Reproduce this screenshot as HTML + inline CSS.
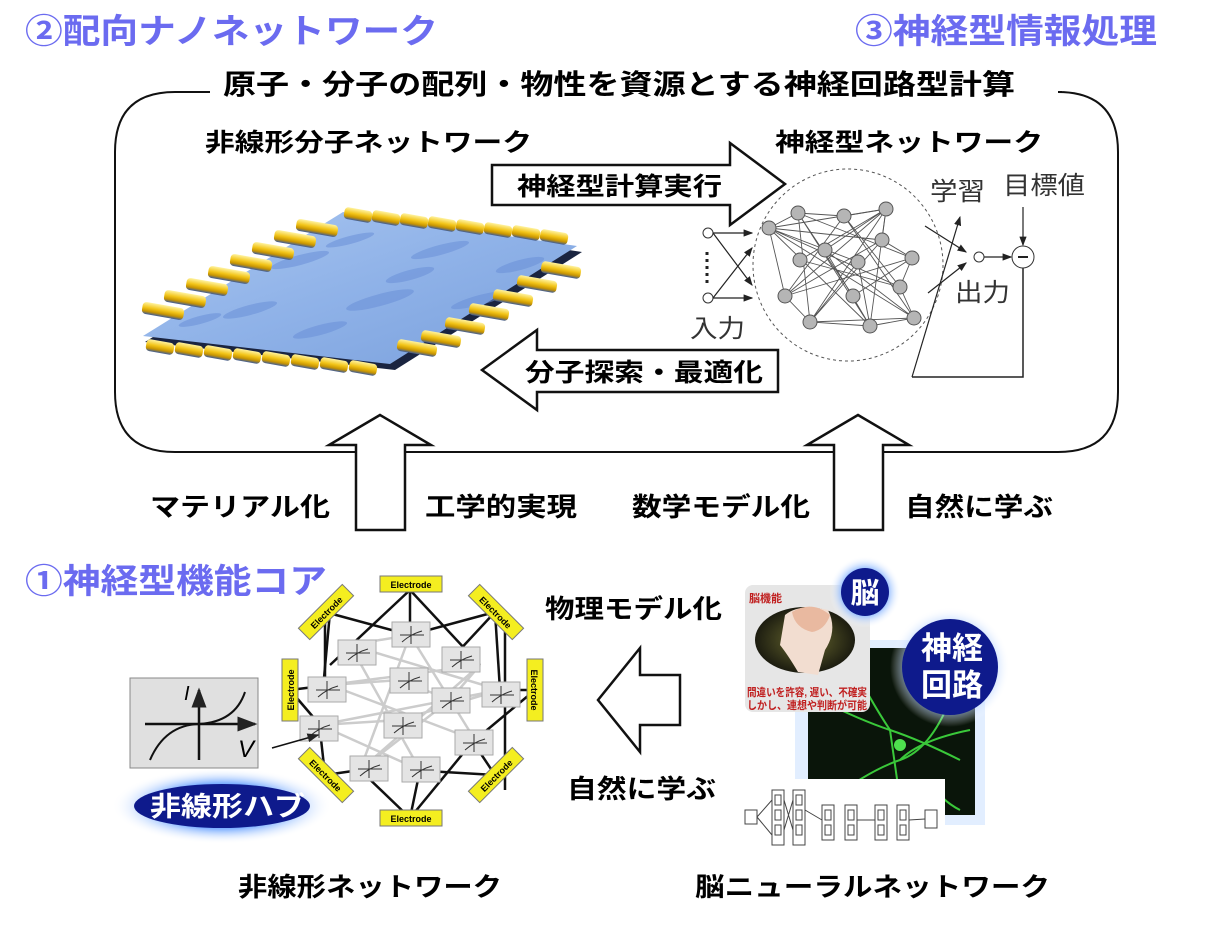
<!DOCTYPE html>
<html><head><meta charset="utf-8"><style>
body{margin:0;background:#fff;width:1210px;height:929px;overflow:hidden}
svg{display:block}
text{font-family:"Liberation Sans","Noto Sans CJK JP",sans-serif}
.b{font-weight:bold}
</style></head><body>
<svg width="1210" height="929" viewBox="0 0 1210 929" xmlns="http://www.w3.org/2000/svg">
<defs>
<linearGradient id="sheet" x1="0" y1="0" x2="1" y2="1">
<stop offset="0" stop-color="#a9c6f0"/><stop offset=".5" stop-color="#8fb2e8"/><stop offset="1" stop-color="#7aa0dc"/></linearGradient>
<linearGradient id="gold" x1="0" y1="0" x2="0" y2="1"><stop offset="0" stop-color="#fff3a0"/><stop offset=".45" stop-color="#f2c418"/><stop offset=".75" stop-color="#c89400"/><stop offset="1" stop-color="#3b5a9a"/></linearGradient>
<radialGradient id="glow"><stop offset=".6" stop-color="#7fb0ff"/><stop offset="1" stop-color="#ffffff" stop-opacity="0"/></radialGradient>
<radialGradient id="head"><stop offset="0" stop-color="#6a6a30"/><stop offset="1" stop-color="#1c1c10"/></radialGradient>
<marker id="ah" markerWidth="8" markerHeight="8" refX="7" refY="4" orient="auto"><path d="M0,1 L8,4 L0,7z" fill="#222"/></marker>
</defs>

<!-- headings -->
<text x="25" y="43" class="b" font-size="34" fill="#6b6bf0" textLength="413" lengthAdjust="spacingAndGlyphs">②配向ナノネットワーク</text>
<text x="855" y="43" class="b" font-size="34" fill="#6b6bf0" textLength="302" lengthAdjust="spacingAndGlyphs">③神経型情報処理</text>
<text x="25" y="593" class="b" font-size="34" fill="#6b6bf0" textLength="302" lengthAdjust="spacingAndGlyphs">①神経型機能コア</text>

<!-- big rounded box -->
<path d="M210,92 L175,92 Q115,92 115,152 L115,392 Q115,452 175,452 L1058,452 Q1118,452 1118,392 L1118,152 Q1118,92 1058,92 L1062,92" fill="none" stroke="#111" stroke-width="2"/>
<text x="223" y="94" class="b" font-size="28" textLength="792" lengthAdjust="spacingAndGlyphs">原子・分子の配列・物性を資源とする神経回路型計算</text>
<text x="205" y="151" class="b" font-size="25" textLength="327" lengthAdjust="spacingAndGlyphs">非線形分子ネットワーク</text>
<text x="775" y="151" class="b" font-size="25" textLength="268" lengthAdjust="spacingAndGlyphs">神経型ネットワーク</text>

<!-- right arrow -->
<path d="M492,165 L730,165 L730,143 L785,184 L730,225 L730,205 L492,205z" fill="#fff" stroke="#111" stroke-width="2.5"/>
<text x="517" y="195" class="b" font-size="25" textLength="205" lengthAdjust="spacingAndGlyphs">神経型計算実行</text>
<!-- left arrow -->
<path d="M778,350 L537,350 L537,330 L482,370 L537,410 L537,392 L778,392z" fill="#fff" stroke="#111" stroke-width="2.5"/>
<text x="525" y="381" class="b" font-size="25" textLength="238" lengthAdjust="spacingAndGlyphs">分子探索・最適化</text>

<!-- molecular chip -->
<g>
<polygon points="145,342 345,216 582,252 395,370" fill="#1a2440"/>
<polygon points="143,336 343,212 577,246 390,364" fill="url(#sheet)"/>
<g fill="#6a90d8" opacity=".55">
<ellipse cx="300" cy="260" rx="30" ry="5" transform="rotate(-15 300 260)"/>
<ellipse cx="380" cy="300" rx="35" ry="6" transform="rotate(-15 380 300)"/>
<ellipse cx="440" cy="250" rx="30" ry="5" transform="rotate(-15 440 250)"/>
<ellipse cx="250" cy="310" rx="28" ry="5" transform="rotate(-15 250 310)"/>
<ellipse cx="480" cy="300" rx="30" ry="5" transform="rotate(-15 480 300)"/>
<ellipse cx="350" cy="240" rx="25" ry="4" transform="rotate(-15 350 240)"/>
<ellipse cx="320" cy="330" rx="28" ry="5" transform="rotate(-15 320 330)"/>
<ellipse cx="520" cy="265" rx="25" ry="5" transform="rotate(-15 520 265)"/>
<ellipse cx="410" cy="275" rx="25" ry="5" transform="rotate(-15 410 275)"/>
<ellipse cx="200" cy="320" rx="22" ry="4" transform="rotate(-15 200 320)"/>
</g>
<g fill="url(#gold)">
<rect x="142" y="305" width="42" height="12" rx="4" transform="rotate(10 163 311)"/>
<rect x="164" y="293" width="42" height="12" rx="4" transform="rotate(10 185 299)"/>
<rect x="186" y="281" width="42" height="12" rx="4" transform="rotate(10 207 287)"/>
<rect x="208" y="269" width="42" height="12" rx="4" transform="rotate(10 229 275)"/>
<rect x="230" y="257" width="42" height="12" rx="4" transform="rotate(10 251 263)"/>
<rect x="252" y="245" width="42" height="12" rx="4" transform="rotate(10 273 251)"/>
<rect x="274" y="233" width="42" height="12" rx="4" transform="rotate(10 295 239)"/>
<rect x="296" y="222" width="42" height="12" rx="4" transform="rotate(10 317 228)"/>
<rect x="344" y="209" width="28" height="12" rx="4" transform="rotate(10 358 215)"/>
<rect x="372" y="212" width="28" height="12" rx="4" transform="rotate(10 386 218)"/>
<rect x="400" y="215" width="28" height="12" rx="4" transform="rotate(10 414 221)"/>
<rect x="428" y="218" width="28" height="12" rx="4" transform="rotate(10 442 224)"/>
<rect x="456" y="221" width="28" height="12" rx="4" transform="rotate(10 470 227)"/>
<rect x="484" y="224" width="28" height="12" rx="4" transform="rotate(10 498 230)"/>
<rect x="512" y="227" width="28" height="12" rx="4" transform="rotate(10 526 233)"/>
<rect x="540" y="231" width="28" height="12" rx="4" transform="rotate(10 554 237)"/>
<rect x="541" y="264" width="40" height="12" rx="4" transform="rotate(10 561 270)"/>
<rect x="517" y="278" width="40" height="12" rx="4" transform="rotate(10 537 284)"/>
<rect x="493" y="292" width="40" height="12" rx="4" transform="rotate(10 513 298)"/>
<rect x="469" y="306" width="40" height="12" rx="4" transform="rotate(10 489 312)"/>
<rect x="445" y="320" width="40" height="12" rx="4" transform="rotate(10 465 326)"/>
<rect x="421" y="333" width="40" height="12" rx="4" transform="rotate(10 441 339)"/>
<rect x="397" y="342" width="40" height="12" rx="4" transform="rotate(10 417 348)"/>
<rect x="146" y="341" width="28" height="12" rx="4" transform="rotate(10 160 347)"/>
<rect x="175" y="344" width="28" height="12" rx="4" transform="rotate(10 189 350)"/>
<rect x="204" y="347" width="28" height="12" rx="4" transform="rotate(10 218 353)"/>
<rect x="233" y="350" width="28" height="12" rx="4" transform="rotate(10 247 356)"/>
<rect x="262" y="353" width="28" height="12" rx="4" transform="rotate(10 276 359)"/>
<rect x="291" y="356" width="28" height="12" rx="4" transform="rotate(10 305 362)"/>
<rect x="320" y="359" width="28" height="12" rx="4" transform="rotate(10 334 365)"/>
<rect x="349" y="362" width="28" height="12" rx="4" transform="rotate(10 363 368)"/>
</g>
</g>

<!-- neural network -->
<g>
<ellipse cx="848" cy="265" rx="95" ry="96" fill="none" stroke="#555" stroke-dasharray="3,3"/>
<g stroke="#555" stroke-width="0.9" fill="none">
<path d="M769,228 L798,213 L844,216 L886,209 L882,240 L912,258 L900,287 L914,318 L870,326 L810,322 L785,296 L769,228"/>
<path d="M769,228 L886,209 M769,228 L914,318 M798,213 L870,326 M798,213 L810,322 M844,216 L785,296 M844,216 L914,318 M886,209 L810,322 M886,209 L785,296 M882,240 L769,228 M882,240 L810,322 M912,258 L798,213 M912,258 L785,296 M900,287 L769,228 M900,287 L844,216 M870,326 L769,228 M870,326 L886,209 M825,250 L914,318 M825,250 L886,209 M858,262 L769,228 M858,262 L870,326 M800,260 L900,287 M800,260 L886,209 M853,296 L798,213 M853,296 L912,258 M810,322 L914,318 M785,296 L882,240 M825,250 L870,326 M858,262 L810,322"/>
</g>
<g fill="#b5b5b5" stroke="#555">
<circle cx="769" cy="228" r="7"/><circle cx="798" cy="213" r="7"/><circle cx="844" cy="216" r="7"/><circle cx="886" cy="209" r="7"/><circle cx="882" cy="240" r="7"/><circle cx="912" cy="258" r="7"/><circle cx="900" cy="287" r="7"/><circle cx="914" cy="318" r="7"/><circle cx="870" cy="326" r="7"/><circle cx="810" cy="322" r="7"/><circle cx="785" cy="296" r="7"/><circle cx="825" cy="250" r="7"/><circle cx="858" cy="262" r="7"/><circle cx="800" cy="260" r="7"/><circle cx="853" cy="296" r="7"/>
</g>
<circle cx="708" cy="233" r="5" fill="#fff" stroke="#333"/>
<circle cx="708" cy="298" r="5" fill="#fff" stroke="#333"/>
<path d="M707,252 L707,285" stroke="#222" stroke-width="3" stroke-dasharray="3,4"/>
<g stroke="#222" stroke-width="1.2" marker-end="url(#ah)">
<line x1="713" y1="233" x2="752" y2="233"/><line x1="713" y1="233" x2="752" y2="285"/>
<line x1="713" y1="298" x2="752" y2="248"/><line x1="713" y1="298" x2="752" y2="298"/>
<line x1="925" y1="226" x2="966" y2="252"/><line x1="928" y1="293" x2="966" y2="263"/>
<line x1="984" y1="257" x2="1011" y2="257"/><line x1="1023" y1="207" x2="1023" y2="245"/>
<line x1="912" y1="377" x2="960" y2="217"/>
</g>
<polyline points="912,377 1023,377 1023,267" fill="none" stroke="#222" stroke-width="1.5"/>
<circle cx="979" cy="257" r="5" fill="#fff" stroke="#333"/>
<circle cx="1023" cy="257" r="11" fill="#fff" stroke="#333"/>
<line x1="1018" y1="257" x2="1028" y2="257" stroke="#222" stroke-width="2"/>
<text x="930" y="200" font-size="25" fill="#333" textLength="55" lengthAdjust="spacingAndGlyphs">学習</text>
<text x="1003" y="194" font-size="25" fill="#333" textLength="82" lengthAdjust="spacingAndGlyphs">目標値</text>
<text x="955" y="301" font-size="25" fill="#333" textLength="55" lengthAdjust="spacingAndGlyphs">出力</text>
<text x="690" y="337" font-size="25" fill="#333" textLength="55" lengthAdjust="spacingAndGlyphs">入力</text>
</g>

<!-- up arrows -->
<path d="M356,530 L356,445 L329,445 L380,415 L431,445 L405,445 L405,530z" fill="#fff" stroke="#111" stroke-width="2.5"/>
<path d="M834,530 L834,445 L807,445 L858,415 L909,445 L883,445 L883,530z" fill="#fff" stroke="#111" stroke-width="2.5"/>
<text x="150" y="516" class="b" font-size="26" textLength="180" lengthAdjust="spacingAndGlyphs">マテリアル化</text>
<text x="425" y="516" class="b" font-size="26" textLength="152" lengthAdjust="spacingAndGlyphs">工学的実現</text>
<text x="632" y="516" class="b" font-size="26" textLength="178" lengthAdjust="spacingAndGlyphs">数学モデル化</text>
<text x="905" y="516" class="b" font-size="26" textLength="148" lengthAdjust="spacingAndGlyphs">自然に学ぶ</text>

<!-- bottom-left network -->
<g stroke="#111" stroke-width="2.5">
<line x1="410" y1="590" x2="330" y2="665"/><line x1="410" y1="590" x2="480" y2="665"/><line x1="410" y1="590" x2="410" y2="635"/>
<line x1="325" y1="612" x2="410" y2="635"/><line x1="325" y1="612" x2="325" y2="690"/><line x1="495" y1="612" x2="410" y2="635"/><line x1="495" y1="612" x2="500" y2="690"/><line x1="495" y1="612" x2="455" y2="655"/>
<line x1="290" y1="690" x2="330" y2="685"/><line x1="290" y1="690" x2="320" y2="725"/><line x1="535" y1="690" x2="500" y2="690"/><line x1="535" y1="690" x2="475" y2="740"/>
<line x1="505" y1="630" x2="505" y2="790"/><line x1="330" y1="612" x2="322" y2="700"/>
<line x1="325" y1="775" x2="320" y2="730"/><line x1="325" y1="775" x2="360" y2="770"/><line x1="495" y1="775" x2="410" y2="770"/><line x1="495" y1="775" x2="475" y2="745"/>
<line x1="410" y1="818" x2="360" y2="770"/><line x1="410" y1="818" x2="470" y2="745"/><line x1="410" y1="818" x2="420" y2="770"/>
</g>
<g stroke="#ccc" stroke-width="2.5">
<line x1="330" y1="685" x2="480" y2="665"/><line x1="330" y1="685" x2="475" y2="740"/><line x1="320" y1="725" x2="500" y2="690"/><line x1="350" y1="645" x2="420" y2="770"/><line x1="350" y1="645" x2="500" y2="690"/><line x1="410" y1="635" x2="360" y2="770"/><line x1="410" y1="635" x2="475" y2="740"/><line x1="400" y1="680" x2="450" y2="700"/><line x1="400" y1="720" x2="500" y2="690"/><line x1="320" y1="725" x2="420" y2="770"/><line x1="480" y1="665" x2="360" y2="770"/><line x1="450" y1="700" x2="360" y2="770"/><line x1="400" y1="680" x2="330" y2="685"/><line x1="400" y1="720" x2="320" y2="725"/><line x1="350" y1="645" x2="410" y2="635"/><line x1="450" y1="700" x2="480" y2="665"/>
</g>
<g id="ivs" fill="#e4e4e4" stroke="#aaa">
<rect x="392" y="622" width="38" height="25"/><rect x="338" y="640" width="38" height="25"/><rect x="442" y="647" width="38" height="25"/><rect x="390" y="668" width="38" height="25"/><rect x="308" y="677" width="38" height="25"/><rect x="432" y="688" width="38" height="25"/><rect x="482" y="682" width="38" height="25"/><rect x="300" y="716" width="38" height="25"/><rect x="384" y="713" width="38" height="25"/><rect x="455" y="730" width="38" height="25"/><rect x="350" y="756" width="38" height="25"/><rect x="402" y="757" width="38" height="25"/>
</g>
<g stroke="#333" stroke-width="1" fill="none">
<path d="M400,635 h24 M411,626 v18 M402,642 q9,-8 20,-11"/><path d="M346,653 h24 M357,644 v18 M348,660 q9,-8 20,-11"/><path d="M450,660 h24 M461,651 v18 M452,667 q9,-8 20,-11"/><path d="M398,681 h24 M409,672 v18 M400,688 q9,-8 20,-11"/><path d="M316,690 h24 M327,681 v18 M318,697 q9,-8 20,-11"/><path d="M440,701 h24 M451,692 v18 M442,708 q9,-8 20,-11"/><path d="M490,695 h24 M501,686 v18 M492,702 q9,-8 20,-11"/><path d="M308,729 h24 M319,720 v18 M310,736 q9,-8 20,-11"/><path d="M392,726 h24 M403,717 v18 M394,733 q9,-8 20,-11"/><path d="M463,743 h24 M474,734 v18 M465,750 q9,-8 20,-11"/><path d="M358,769 h24 M369,760 v18 M360,776 q9,-8 20,-11"/><path d="M410,770 h24 M421,761 v18 M412,777 q9,-8 20,-11"/>
</g>
<g font-size="9" class="b" text-anchor="middle" fill="#000">
<rect x="380" y="576" width="62" height="16" fill="#f4ee20" stroke="#777"/><text x="411" y="588">Electrode</text>
<rect x="380" y="810" width="62" height="16" fill="#f4ee20" stroke="#777"/><text x="411" y="822">Electrode</text>
<g transform="translate(290,690) rotate(-90)"><rect x="-31" y="-8" width="62" height="16" fill="#f4ee20" stroke="#777"/><text x="0" y="4">Electrode</text></g>
<g transform="translate(535,690) rotate(90)"><rect x="-31" y="-8" width="62" height="16" fill="#f4ee20" stroke="#777"/><text x="0" y="4">Electrode</text></g>
<g transform="translate(326,612) rotate(-45)"><rect x="-31" y="-8" width="62" height="16" fill="#f4ee20" stroke="#777"/><text x="0" y="4">Electrode</text></g>
<g transform="translate(496,612) rotate(45)"><rect x="-31" y="-8" width="62" height="16" fill="#f4ee20" stroke="#777"/><text x="0" y="4">Electrode</text></g>
<g transform="translate(326,775) rotate(45)"><rect x="-31" y="-8" width="62" height="16" fill="#f4ee20" stroke="#777"/><text x="0" y="4">Electrode</text></g>
<g transform="translate(496,775) rotate(-45)"><rect x="-31" y="-8" width="62" height="16" fill="#f4ee20" stroke="#777"/><text x="0" y="4">Electrode</text></g>
</g>
<!-- IV box -->
<rect x="130" y="678" width="128" height="90" fill="#e0e0e0" stroke="#888"/>
<line x1="145" y1="724" x2="255" y2="724" stroke="#111" stroke-width="2.5" marker-end="url(#ah)"/>
<line x1="199" y1="760" x2="199" y2="690" stroke="#111" stroke-width="2.5" marker-end="url(#ah)"/>
<path d="M150,760 Q165,725 199,724 Q235,722 245,692" fill="none" stroke="#111" stroke-width="2"/>
<text x="184" y="700" font-size="20" font-style="italic" font-family="Liberation Serif,serif">I</text>
<text x="238" y="757" font-size="24" font-style="italic" font-family="Liberation Serif,serif">V</text>
<line x1="272" y1="748" x2="318" y2="735" stroke="#111" stroke-width="1.5" marker-end="url(#ah)"/>
<ellipse cx="222" cy="806" rx="110" ry="38" fill="url(#glow)"/>
<ellipse cx="222" cy="806" rx="88" ry="22" fill="#0e1a8c"/>
<text x="150" y="816" class="b" font-size="27" fill="#fff" textLength="155" lengthAdjust="spacingAndGlyphs">非線形ハブ</text>

<!-- middle bottom -->
<text x="545" y="618" class="b" font-size="26" textLength="177" lengthAdjust="spacingAndGlyphs">物理モデル化</text>
<path d="M680,675 L640,675 L640,648 L598,700 L640,752 L640,725 L680,725z" fill="#fff" stroke="#111" stroke-width="2.5"/>
<text x="567" y="798" class="b" font-size="26" textLength="149" lengthAdjust="spacingAndGlyphs">自然に学ぶ</text>

<!-- brain images -->
<rect x="795" y="640" width="190" height="185" fill="#cfe3ff" opacity=".6"/>
<rect x="808" y="648" width="167" height="167" fill="#0a150a"/>
<g stroke="#3ac83a" stroke-width="2" fill="none">
<path d="M820,700 Q860,720 890,730 T960,760"/><path d="M830,800 Q870,770 900,760 T950,700"/><path d="M890,730 L900,800"/><path d="M900,760 Q920,740 970,730"/><path d="M850,660 Q870,700 890,730"/><path d="M930,780 Q940,800 960,810"/>
</g>
<circle cx="900" cy="745" r="6" fill="#4ee04e"/>
<rect x="745" y="585" width="125" height="127" rx="8" fill="#e6e6e6"/>
<ellipse cx="805" cy="640" rx="50" ry="33" fill="url(#head)"/>
<path d="M785,615 Q800,603 828,610 Q838,630 825,650 L818,675 L798,672 Q788,655 780,645z" fill="#f2ddd0"/>
<path d="M792,612 Q812,600 830,615 Q825,630 812,632 Q795,628 792,612z" fill="#e9b9a0"/>
<text x="749" y="602" font-size="11" fill="#c02020" class="b">脳機能</text>
<text x="747" y="696" font-size="11" fill="#c02020" class="b" textLength="120" lengthAdjust="spacingAndGlyphs">間違いを許容, 遅い、不確実</text>
<text x="747" y="709" font-size="11" fill="#c02020" class="b" textLength="120" lengthAdjust="spacingAndGlyphs">しかし、連想や判断が可能</text>
<circle cx="865" cy="592" r="36" fill="url(#glow)"/>
<circle cx="865" cy="592" r="24" fill="#0e1a8c"/>
<text x="865" y="603" text-anchor="middle" class="b" font-size="29" fill="#fff">脳</text>
<circle cx="950" cy="667" r="60" fill="url(#glow)"/>
<circle cx="950" cy="667" r="48" fill="#0e1a8c"/>
<text x="952" y="659" text-anchor="middle" class="b" font-size="31" fill="#fff">神経</text>
<text x="952" y="696" text-anchor="middle" class="b" font-size="31" fill="#fff">回路</text>
<rect x="738" y="779" width="207" height="68" fill="#fff"/>
<g fill="none" stroke="#444" stroke-width="1">
<rect x="745" y="810" width="12" height="14"/>
<rect x="772" y="790" width="12" height="55"/><rect x="793" y="790" width="12" height="55"/>
<rect x="822" y="805" width="12" height="35"/><rect x="845" y="805" width="12" height="35"/>
<rect x="875" y="805" width="12" height="35"/><rect x="897" y="805" width="12" height="35"/>
<rect x="925" y="810" width="12" height="18"/>
<path d="M775,795 h6 v10 h-6z M775,810 h6 v10 h-6z M775,825 h6 v10 h-6z M796,795 h6 v10 h-6z M796,810 h6 v10 h-6z M796,825 h6 v10 h-6z M825,810 h6 v10 h-6z M825,825 h6 v10 h-6z M848,810 h6 v10 h-6z M848,825 h6 v10 h-6z M878,810 h6 v10 h-6z M878,825 h6 v10 h-6z M900,810 h6 v10 h-6z M900,825 h6 v10 h-6z"/>
<path d="M757,817 L772,800 M757,817 L772,835 M784,800 L793,830 M784,830 L793,800 M805,810 L822,820 M857,820 L875,820 M909,820 L925,819"/>
</g>

<text x="238" y="896" class="b" font-size="26" textLength="264" lengthAdjust="spacingAndGlyphs">非線形ネットワーク</text>
<text x="695" y="896" class="b" font-size="26" textLength="355" lengthAdjust="spacingAndGlyphs">脳ニューラルネットワーク</text>
</svg>
</body></html>
